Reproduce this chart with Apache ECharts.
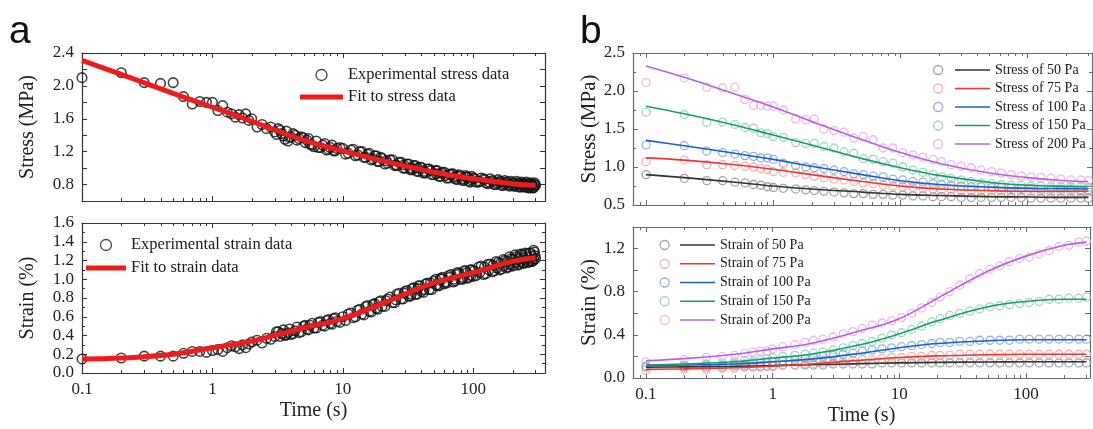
<!DOCTYPE html>
<html><head><meta charset="utf-8">
<script src="https://cdn.jsdelivr.net/npm/echarts@6/dist/echarts.min.js"></script>
<style>html,body{margin:0;padding:0;background:#fff}#c{width:1093px;height:429px}</style>
</head><body><div id="c"></div>
<script>
// ---------- tick labels ----------
const xTickLabels = ['0.1', '1', '10', '100'];
const yLabelsAStress = ['0.8', '1.2', '1.6', '2.0', '2.4'];
const yLabelsAStrain = ['0.0', '0.2', '0.4', '0.6', '0.8', '1.0', '1.2', '1.4', '1.6'];
const yLabelsBStress = ['0.5', '1.0', '1.5', '2.0', '2.5'];
const yLabelsBStrain = ['0.0', '0.4', '0.8', '1.2'];
const minorTickValues = [0.09, 0.2, 0.3, 0.4, 0.5, 0.6, 0.7, 0.8, 0.9, 2, 3, 4, 5, 6, 7, 8, 9, 20, 30, 40, 50, 60, 70, 80, 90, 200, 300];

// ---------- panel a data ----------
const timeA = [0.1, 0.2, 0.3, 0.4, 0.5, 0.6, 0.7, 0.8, 0.9, 1.0,
  1.1, 1.2, 1.3, 1.4, 1.5, 1.6, 1.7, 1.8, 1.9, 2.0,
  2.2, 2.4, 2.6, 2.8, 3.0, 3.2, 3.4, 3.6, 3.8, 4.0,
  4.3, 4.6, 5.0, 5.3, 5.6, 6.0, 6.5, 7.0, 7.5, 8.0, 8.5, 9,
  10, 11, 12, 13, 14, 15, 16, 17, 18, 19, 20,
  22, 24, 26, 28, 30, 32, 34, 36, 38, 40,
  43, 46, 50, 53, 56, 60, 65, 70, 75, 80, 85, 90, 95,
  100, 110, 120, 130, 140, 150, 160, 170, 180, 190, 200,
  210, 220, 230, 240, 250, 260, 270, 280, 290, 300];
const stressA = [2.10, 2.16, 2.04, 2.03, 2.04, 1.87, 1.78, 1.81, 1.80, 1.80,
  1.70, 1.76, 1.68, 1.66, 1.62, 1.65, 1.61, 1.66, 1.58, 1.60,
  1.50, 1.53, 1.48, 1.50, 1.44, 1.48, 1.42, 1.35, 1.33, 1.38,
  1.40, 1.36, 1.37, 1.34, 1.29, 1.26, 1.25, 1.28, 1.22, 1.25, 1.21, 1.24,
  1.24, 1.18, 1.23, 1.16, 1.20, 1.13, 1.18, 1.11, 1.15, 1.08, 1.12,
  1.06, 1.10, 1.03, 1.07, 1.00, 1.05, 0.98, 1.03, 0.96, 1.01,
  0.94, 0.99, 0.92, 0.97, 0.90, 0.95, 0.88, 0.93, 0.86, 0.91, 0.85, 0.89, 0.83,
  0.88, 0.83, 0.87, 0.81, 0.85, 0.80, 0.84, 0.79, 0.83, 0.78, 0.82,
  0.78, 0.82, 0.77, 0.81, 0.77, 0.81, 0.76, 0.80, 0.76, 0.79];
const strainA = [0.15, 0.16, 0.18, 0.18, 0.18, 0.21, 0.23, 0.23, 0.22, 0.24,
  0.25, 0.23, 0.27, 0.29, 0.28, 0.26, 0.30, 0.27, 0.31, 0.33,
  0.35, 0.32, 0.37, 0.36, 0.39, 0.44, 0.42, 0.40, 0.43, 0.41,
  0.45, 0.43, 0.50, 0.47, 0.51, 0.48, 0.54, 0.51, 0.56, 0.53, 0.58, 0.55,
  0.60, 0.63, 0.59, 0.67, 0.63, 0.71, 0.66, 0.73, 0.69, 0.76, 0.71,
  0.79, 0.75, 0.84, 0.79, 0.87, 0.82, 0.90, 0.84, 0.93, 0.87,
  0.95, 0.89, 0.98, 0.93, 1.01, 0.95, 1.04, 0.97, 1.07, 1.00, 1.09, 1.01, 1.10,
  1.03, 1.13, 1.05, 1.16, 1.08, 1.19, 1.10, 1.21, 1.12, 1.24, 1.14,
  1.26, 1.15, 1.27, 1.17, 1.28, 1.18, 1.28, 1.19, 1.31, 1.22];
// extra (denser) experimental samples between the ones above
const timeA2 = [3.1, 3.3, 3.5, 3.7, 3.9, 4.15, 4.45, 4.8, 5.15, 5.45, 5.8, 6.25, 6.75, 7.25, 7.75, 8.25, 8.75, 9.5,
  10.5, 11.5, 12.5, 13.5, 14.5, 15.5, 16.5, 17.5, 18.5, 19.5,
  21, 23, 25, 27, 29, 31, 33, 35, 37, 39,
  41.5, 44.5, 48, 51.5, 54.5, 58, 62.5, 67.5, 72.5, 77.5, 82.5, 87.5, 92.5, 97.5,
  105, 115, 125, 135, 145, 155, 165, 175, 185, 195, 205, 215, 225, 235, 245, 255, 265, 275, 285, 295];
const stressA2 = [1.41, 1.46, 1.39, 1.45, 1.37, 1.42, 1.34, 1.38, 1.31, 1.36, 1.28, 1.33, 1.25, 1.30, 1.23, 1.28, 1.21, 1.25,
  1.17, 1.22, 1.15, 1.20, 1.13, 1.17, 1.10, 1.15, 1.08, 1.13,
  1.05, 1.10, 1.03, 1.07, 1.00, 1.05, 0.98, 1.03, 0.96, 1.01,
  0.94, 0.99, 0.92, 0.97, 0.90, 0.95, 0.88, 0.93, 0.87, 0.92, 0.85, 0.91, 0.84, 0.90,
  0.83, 0.88, 0.82, 0.87, 0.80, 0.86, 0.79, 0.85, 0.79, 0.84, 0.78, 0.84, 0.77, 0.83, 0.77, 0.83, 0.76, 0.82, 0.76, 0.82];
const strainA2 = [0.44, 0.39, 0.46, 0.41, 0.47, 0.42, 0.49, 0.44, 0.51, 0.46, 0.53, 0.48, 0.55, 0.50, 0.57, 0.52, 0.59, 0.54,
  0.56, 0.64, 0.60, 0.68, 0.62, 0.72, 0.65, 0.74, 0.68, 0.77,
  0.71, 0.81, 0.75, 0.85, 0.79, 0.88, 0.82, 0.91, 0.84, 0.93,
  0.86, 0.96, 0.89, 1.00, 0.93, 1.02, 0.96, 1.05, 0.98, 1.07, 1.00, 1.09, 1.02, 1.10,
  1.04, 1.14, 1.06, 1.16, 1.09, 1.18, 1.11, 1.20, 1.13, 1.22, 1.15, 1.24, 1.16, 1.26, 1.17, 1.27, 1.18, 1.28, 1.19, 1.29];
const timeA3 = [21.5, 25.5, 29.5, 33.5, 37.5, 42, 47, 52, 57, 61,
  66, 71, 76, 83, 89, 96, 102, 112, 122, 132,
  142, 152, 162, 172, 182, 192, 202, 212, 222, 232,
  242, 252, 262, 272, 282, 292, 298];
const stressA3 = [1.09, 1.04, 1.04, 1.00, 1.00, 0.96, 0.97, 0.93, 0.94, 0.91,
  0.92, 0.89, 0.90, 0.87, 0.89, 0.86, 0.87, 0.84, 0.86, 0.83,
  0.84, 0.82, 0.83, 0.81, 0.83, 0.80, 0.82, 0.80, 0.81, 0.79,
  0.81, 0.79, 0.80, 0.78, 0.80, 0.78, 0.80];
const strainA3 = [0.77, 0.78, 0.85, 0.84, 0.90, 0.89, 0.96, 0.94, 1.00, 0.97,
  1.02, 1.00, 1.05, 1.02, 1.07, 1.04, 1.09, 1.07, 1.13, 1.10,
  1.15, 1.12, 1.17, 1.14, 1.19, 1.16, 1.21, 1.18, 1.22, 1.19,
  1.23, 1.20, 1.24, 1.20, 1.25, 1.21, 1.25];
const fitTimeA = [0.1, 0.2, 0.5, 1, 2, 5, 10, 20, 50, 100, 200, 300];
const fitStressA = [2.31, 2.14, 1.91, 1.74, 1.57, 1.34, 1.21, 1.09, 0.95, 0.87, 0.81, 0.79];
const fitStrainA = [0.15, 0.16, 0.20, 0.27, 0.34, 0.48, 0.58, 0.74, 0.96, 1.07, 1.19, 1.23];

// ---------- panel b data ----------
const timeB = [0.1, 0.2, 0.3, 0.4, 0.5, 0.6, 0.7, 0.8, 0.9, 1,
  1.2, 1.5, 1.8, 2.1, 2.5, 3, 3.6, 4.3, 5.1, 6.1,
  7.3, 8.7, 10.4, 12.5, 15, 18, 21, 25, 30, 36,
  43, 52, 62, 74, 89, 106, 127, 152, 182, 218,
  261, 300];
const stress50 = [0.90, 0.85, 0.82, 0.82, 0.80, 0.79, 0.77, 0.76, 0.74, 0.73,
  0.72, 0.71, 0.70, 0.69, 0.68, 0.67, 0.66, 0.65, 0.65, 0.64,
  0.64, 0.63, 0.63, 0.62, 0.62, 0.61, 0.61, 0.61, 0.60, 0.60,
  0.60, 0.60, 0.60, 0.60, 0.60, 0.59, 0.59, 0.59, 0.59, 0.59,
  0.59, 0.59];
const stress75 = [1.07, 1.09, 1.03, 1.03, 1.02, 1.01, 1.00, 0.98, 0.97, 0.94,
  0.93, 0.92, 0.90, 0.88, 0.86, 0.84, 0.83, 0.81, 0.79, 0.78,
  0.76, 0.75, 0.74, 0.73, 0.72, 0.71, 0.70, 0.70, 0.69, 0.69,
  0.69, 0.68, 0.68, 0.68, 0.68, 0.68, 0.67, 0.67, 0.67, 0.67,
  0.67, 0.67];
const stress100 = [1.29, 1.28, 1.21, 1.19, 1.17, 1.15, 1.14, 1.12, 1.12, 1.10,
  1.05, 1.02, 1.00, 0.99, 0.98, 0.96, 0.94, 0.91, 0.90, 0.88,
  0.87, 0.84, 0.83, 0.81, 0.80, 0.78, 0.77, 0.76, 0.75, 0.74,
  0.74, 0.73, 0.73, 0.72, 0.72, 0.72, 0.71, 0.71, 0.71, 0.71,
  0.70, 0.70];
const stress150 = [1.72, 1.69, 1.59, 1.59, 1.56, 1.52, 1.51, 1.45, 1.44, 1.40,
  1.39, 1.32, 1.31, 1.31, 1.27, 1.25, 1.20, 1.18, 1.11, 1.10,
  1.07, 1.05, 1.00, 0.96, 0.93, 0.90, 0.87, 0.85, 0.83, 0.81,
  0.79, 0.78, 0.77, 0.76, 0.76, 0.75, 0.75, 0.74, 0.74, 0.74,
  0.74, 0.73];
const stress200 = [2.11, 2.17, 2.05, 2.04, 2.05, 1.89, 1.81, 1.81, 1.80, 1.80,
  1.75, 1.63, 1.62, 1.63, 1.50, 1.48, 1.46, 1.38, 1.40, 1.36,
  1.25, 1.25, 1.19, 1.16, 1.13, 1.10, 1.07, 1.03, 1.01, 0.99,
  0.96, 0.94, 0.92, 0.90, 0.88, 0.87, 0.86, 0.85, 0.84, 0.83,
  0.83, 0.82];
const strain50 = [0.10, 0.10, 0.10, 0.10, 0.11, 0.11, 0.11, 0.11, 0.11, 0.11,
  0.12, 0.12, 0.12, 0.12, 0.12, 0.13, 0.13, 0.13, 0.13, 0.13,
  0.14, 0.14, 0.14, 0.14, 0.14, 0.14, 0.14, 0.14, 0.14, 0.14,
  0.14, 0.14, 0.14, 0.14, 0.14, 0.14, 0.14, 0.14, 0.14, 0.14,
  0.14, 0.14];
const strain75 = [0.07, 0.08, 0.08, 0.09, 0.09, 0.10, 0.10, 0.10, 0.11, 0.11,
  0.12, 0.12, 0.13, 0.13, 0.14, 0.15, 0.15, 0.16, 0.17, 0.17,
  0.18, 0.19, 0.19, 0.20, 0.20, 0.21, 0.21, 0.21, 0.22, 0.22,
  0.22, 0.22, 0.22, 0.22, 0.22, 0.22, 0.22, 0.22, 0.22, 0.22,
  0.22, 0.22];
const strain100 = [0.11, 0.11, 0.12, 0.12, 0.13, 0.13, 0.14, 0.14, 0.15, 0.15,
  0.16, 0.17, 0.18, 0.19, 0.20, 0.21, 0.22, 0.23, 0.25, 0.26,
  0.27, 0.28, 0.29, 0.30, 0.31, 0.32, 0.33, 0.33, 0.34, 0.34,
  0.35, 0.35, 0.35, 0.35, 0.36, 0.36, 0.36, 0.36, 0.36, 0.36,
  0.36, 0.36];
const strain150 = [0.11, 0.12, 0.13, 0.14, 0.15, 0.16, 0.16, 0.17, 0.18, 0.19,
  0.20, 0.21, 0.22, 0.23, 0.24, 0.26, 0.28, 0.30, 0.32, 0.34,
  0.37, 0.40, 0.42, 0.45, 0.48, 0.52, 0.55, 0.58, 0.60, 0.62,
  0.64, 0.66, 0.67, 0.68, 0.69, 0.70, 0.71, 0.73, 0.73, 0.74,
  0.74, 0.75];
const strain200 = [0.15, 0.17, 0.19, 0.20, 0.21, 0.23, 0.24, 0.25, 0.25, 0.27,
  0.29, 0.31, 0.33, 0.35, 0.36, 0.38, 0.41, 0.43, 0.46, 0.49,
  0.51, 0.53, 0.56, 0.60, 0.65, 0.70, 0.75, 0.80, 0.86, 0.92,
  0.97, 1.01, 1.04, 1.08, 1.11, 1.12, 1.15, 1.18, 1.22, 1.23,
  1.26, 1.27];
const fitTimeB = [0.1, 0.2, 0.5, 1, 2, 5, 10, 20, 50, 100, 200, 300];
const fitStress50 = [0.90, 0.86, 0.80, 0.75, 0.71, 0.67, 0.64, 0.625, 0.61, 0.605, 0.60, 0.60];
const fitStress75 = [1.12, 1.09, 1.03, 0.97, 0.90, 0.81, 0.75, 0.71, 0.69, 0.68, 0.68, 0.68];
const fitStress100 = [1.35, 1.28, 1.18, 1.10, 1.01, 0.90, 0.82, 0.77, 0.735, 0.72, 0.715, 0.71];
const fitStress150 = [1.80, 1.70, 1.55, 1.42, 1.29, 1.11, 0.99, 0.89, 0.80, 0.76, 0.745, 0.74];
const fitStress200 = [2.33, 2.18, 1.96, 1.79, 1.60, 1.36, 1.19, 1.05, 0.92, 0.86, 0.82, 0.81];
const fitStrain50 = [0.10, 0.103, 0.108, 0.115, 0.123, 0.133, 0.14, 0.145, 0.148, 0.15, 0.15, 0.15];
const fitStrain75 = [0.08, 0.085, 0.095, 0.11, 0.13, 0.165, 0.19, 0.205, 0.215, 0.22, 0.22, 0.22];
const fitStrain100 = [0.115, 0.12, 0.13, 0.15, 0.175, 0.23, 0.28, 0.32, 0.345, 0.355, 0.355, 0.355];
const fitStrain150 = [0.12, 0.13, 0.15, 0.185, 0.22, 0.31, 0.41, 0.53, 0.66, 0.71, 0.73, 0.73];
const fitStrain200 = [0.16, 0.18, 0.22, 0.27, 0.32, 0.44, 0.55, 0.74, 0.99, 1.13, 1.23, 1.26];
const loads = ['50', '75', '100', '150', '200'];

// ---------- styling ----------
const SERIF = 'Liberation Serif';
const lineColors = ['#333333', '#ee3535', '#1a5fd0', '#12a070', '#b860e0'];
const dotColors = ['#8c8c8c', '#eea0a0', '#7fa0c4', '#8fc9b0', '#e4a8e4'];

const zip = (t, v) => t.map((x, i) => [x, v[i]]);
const fmtX = v => { const s = String(+(+v).toPrecision(6)); return xTickLabels.includes(s) ? s : ''; };
const fmtY = list => v => { const s = (+v).toFixed(1); return list.includes(s) ? s : ''; };

const grids = [
  { left: 82, top: 53, width: 463, height: 148 },
  { left: 82, top: 223, width: 463, height: 150 },
  { left: 633, top: 53, width: 459, height: 152 },
  { left: 633, top: 227, width: 459, height: 151 }
];
const xRange = [[0.1, 355], [0.1, 355], [0.079, 320], [0.079, 320]];
const axisCol = ['#333', '#333', '#6a6a6a', '#6a6a6a'];

const xAxes = [], yAxes = [];
grids.forEach((g, gi) => {
  const showX = gi === 1 || gi === 3;
  ['bottom', 'top'].forEach(pos => {
    xAxes.push({
      type: 'log', logBase: 10, gridIndex: gi, position: pos,
      min: xRange[gi][0], max: xRange[gi][1],
      axisLine: { show: true, onZero: false, lineStyle: { color: axisCol[gi], width: 1.2 } },
      axisTick: { show: true, inside: true, length: 5, lineStyle: { color: axisCol[gi] } },
      axisLabel: { show: pos === 'bottom' && showX, formatter: fmtX, fontFamily: SERIF, fontSize: 17, color: '#222', margin: 8 },
      splitLine: { show: false },
      name: pos === 'bottom' && showX ? 'Time (s)' : '',
      nameLocation: 'middle', nameGap: 28,
      nameTextStyle: { fontFamily: SERIF, fontSize: 20, color: '#222' }
    });
  });
});
const yConf = [
  { min: 0.6, max: 2.4, interval: 0.2, labels: yLabelsAStress, name: 'Stress (MPa)', minor: false, nameGap: 44, nameSize: 20 },
  { min: 0, max: 1.6, interval: 0.2, labels: yLabelsAStrain, name: 'Strain (%)', minor: true, nameGap: 44, nameSize: 20 },
  { min: 0.5, max: 2.5, interval: 0.5, labels: yLabelsBStress, name: 'Stress (MPa)', minor: true, nameGap: 27, nameSize: 21 },
  { min: 0, max: 1.4, interval: 0.2, labels: yLabelsBStrain, name: 'Strain (%)', minor: false, nameGap: 27, nameSize: 21 }
];
yConf.forEach((c, gi) => {
  ['left', 'right'].forEach(pos => {
    yAxes.push({
      type: 'value', gridIndex: gi, position: pos,
      min: c.min, max: c.max, interval: c.interval,
      axisLine: { show: true, onZero: false, lineStyle: { color: axisCol[gi], width: 1.2 } },
      axisTick: { show: true, inside: true, length: 5, lineStyle: { color: axisCol[gi] } },
      minorTick: { show: c.minor, splitNumber: 2, length: 3, lineStyle: { color: axisCol[gi] } },
      axisLabel: { show: pos === 'left', formatter: fmtY(c.labels), fontFamily: SERIF, fontSize: 17, color: '#222', margin: 8 },
      splitLine: { show: false },
      name: pos === 'left' ? c.name : '',
      nameLocation: 'middle', nameGap: c.nameGap, nameRotate: 90,
      nameTextStyle: { fontFamily: SERIF, fontSize: c.nameSize, color: '#222' }
    });
  });
});

const series = [];
// log minor ticks on top and bottom of each grid
grids.forEach((g, gi) => {
  const vals = minorTickValues.filter(v => v > xRange[gi][0] && v < xRange[gi][1]);
  const col = axisCol[gi];
  series.push({
    type: 'custom', xAxisIndex: gi * 2, yAxisIndex: gi * 2, silent: true, z: 1,
    data: vals.map(v => [v, yConf[gi].min]),
    encode: { x: 0, y: 1 },
    renderItem: (params, api) => {
      const x = Math.round(api.coord([api.value(0), api.value(1)])[0]) + 0.5;
      const cs = params.coordSys;
      const b = cs.y + cs.height, t = cs.y;
      return {
        type: 'group', children: [
          { type: 'line', shape: { x1: x, y1: b, x2: x, y2: b - 3 }, style: { stroke: col, lineWidth: 1 } },
          { type: 'line', shape: { x1: x, y1: t, x2: x, y2: t + 3 }, style: { stroke: col, lineWidth: 1 } }
        ]
      };
    }
  });
});

// panel a
const dotA = { color: 'transparent', borderColor: '#111', borderWidth: 1.6 };
const stressAll = zip(timeA, stressA).concat(zip(timeA2, stressA2), zip(timeA3, stressA3));
const strainAll = zip(timeA, strainA).concat(zip(timeA2, strainA2), zip(timeA3, strainA3));
series.push({ name: 'Experimental stress data', type: 'scatter', xAxisIndex: 0, yAxisIndex: 0, data: stressAll, symbol: 'circle', symbolSize: 9.5, itemStyle: dotA, z: 2 });
series.push({ name: 'Fit to stress data', type: 'line', xAxisIndex: 0, yAxisIndex: 0, data: zip(fitTimeA, fitStressA), smooth: 0.4, showSymbol: false, lineStyle: { color: '#ee1c1c', width: 5 }, itemStyle: { color: '#ee1c1c' }, z: 3 });
series.push({ name: 'Experimental strain data', type: 'scatter', xAxisIndex: 2, yAxisIndex: 2, data: strainAll, symbol: 'circle', symbolSize: 9.5, itemStyle: dotA, z: 2 });
series.push({ name: 'Fit to strain data', type: 'line', xAxisIndex: 2, yAxisIndex: 2, data: zip(fitTimeA, fitStrainA), smooth: 0.4, showSymbol: false, lineStyle: { color: '#ee1c1c', width: 5 }, itemStyle: { color: '#ee1c1c' }, z: 3 });

// panel b
const stressSets = [stress50, stress75, stress100, stress150, stress200];
const fitStressSets = [fitStress50, fitStress75, fitStress100, fitStress150, fitStress200];
const strainSets = [strain50, strain75, strain100, strain150, strain200];
const fitStrainSets = [fitStrain50, fitStrain75, fitStrain100, fitStrain150, fitStrain200];
loads.forEach((ld, i) => {
  const dot = { color: 'transparent', borderColor: dotColors[i], borderWidth: 1.3 };
  series.push({ name: 'Stress of ' + ld + ' Pa data', type: 'scatter', xAxisIndex: 4, yAxisIndex: 4, data: zip(timeB, stressSets[i]), symbol: 'circle', symbolSize: 8, itemStyle: dot, z: 2 });
  series.push({ name: 'Strain of ' + ld + ' Pa data', type: 'scatter', xAxisIndex: 6, yAxisIndex: 6, data: zip(timeB, strainSets[i]), symbol: 'circle', symbolSize: 8, itemStyle: dot, z: 2 });
});
loads.forEach((ld, i) => {
  const ls = { color: lineColors[i], width: 1.6 };
  series.push({ name: 'Stress of ' + ld + ' Pa', type: 'line', xAxisIndex: 4, yAxisIndex: 4, data: zip(fitTimeB, fitStressSets[i]), smooth: 0.4, showSymbol: false, lineStyle: ls, itemStyle: { color: lineColors[i] }, z: 3 });
  series.push({ name: 'Strain of ' + ld + ' Pa', type: 'line', xAxisIndex: 6, yAxisIndex: 6, data: zip(fitTimeB, fitStrainSets[i]), smooth: 0.4, showSymbol: false, lineStyle: ls, itemStyle: { color: lineColors[i] }, z: 3 });
});

const legText = (size, lh, col) => ({ fontFamily: SERIF, fontSize: size, color: col || '#1a1a1a', lineHeight: lh });
const circleItem = (name, col, bw) => ({ name, icon: 'circle', itemStyle: { color: 'transparent', borderColor: col, borderWidth: bw } });
const lineItem = (name, col, w, h) => ({ name, icon: 'path://M0,0H' + w + 'V' + h + 'H0Z', itemStyle: { color: col, borderWidth: 0 } });
const hidden = 'rgba(0,0,0,0)';

const legends = [
  { left: 300, top: 66, orient: 'vertical', itemWidth: 43, itemHeight: 11, itemGap: 4, textStyle: legText(16.5, 18),
    data: [circleItem('Experimental stress data', '#151515', 1.3), lineItem('Fit to stress data', '#ee1c1c', 43, 5)] },
  { left: 86, top: 236, orient: 'vertical', itemWidth: 40, itemHeight: 11, itemGap: 5, textStyle: legText(16.5, 18),
    data: [circleItem('Experimental strain data', '#151515', 1.3), lineItem('Fit to strain data', '#ee1c1c', 40, 5)] },
  { left: 933, top: 63, orient: 'vertical', itemWidth: 9, itemHeight: 14, itemGap: 4.5, formatter: () => 'o', textStyle: legText(14, 14, hidden),
    data: loads.map((ld, i) => circleItem('Stress of ' + ld + ' Pa data', dotColors[i], 1.3)) },
  { left: 955, top: 63, orient: 'vertical', itemWidth: 35, itemHeight: 14, itemGap: 4.5, textStyle: legText(14, 14),
    data: loads.map((ld, i) => lineItem('Stress of ' + ld + ' Pa', lineColors[i], 35, 1.6)) },
  { left: 659.5, top: 238, orient: 'vertical', itemWidth: 9, itemHeight: 14, itemGap: 4.75, formatter: () => 'o', textStyle: legText(14, 14, hidden),
    data: loads.map((ld, i) => circleItem('Strain of ' + ld + ' Pa data', dotColors[i], 1.3)) },
  { left: 680, top: 238, orient: 'vertical', itemWidth: 35, itemHeight: 14, itemGap: 4.75, textStyle: legText(14, 14),
    data: loads.map((ld, i) => lineItem('Strain of ' + ld + ' Pa', lineColors[i], 35, 1.6)) }
].map(l => Object.assign({ padding: 0, selectedMode: false, symbolKeepAspect: true }, l));

const chart = echarts.init(document.getElementById('c'), null, { renderer: 'canvas' });
chart.setOption({
  backgroundColor: '#fff',
  animation: false,
  title: [
    { text: 'a', left: 9, top: 13, padding: 0, textStyle: { fontFamily: 'Liberation Sans', fontSize: 39, fontWeight: 'normal', color: '#111' } },
    { text: 'b', left: 580, top: 13, padding: 0, textStyle: { fontFamily: 'Liberation Sans', fontSize: 39, fontWeight: 'normal', color: '#111' } }
  ],
  grid: grids,
  xAxis: xAxes,
  yAxis: yAxes,
  legend: legends,
  series: series
});
</script></body></html>
